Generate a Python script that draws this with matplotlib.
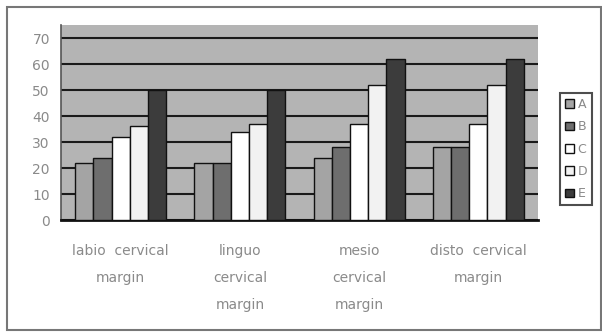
import numpy as np
import matplotlib.pyplot as plt
from matplotlib.patches import Rectangle

# データ
categories = ['labio  cervical\nmargin', 'linguo\ncervical\nmargin',
              'mesio\ncervical\nmargin', 'disto  cervical\nmargin']
series_names = ['A', 'B', 'C', 'D', 'E']
A = [22, 22, 24, 28]
B = [24, 22, 28, 28]
C = [32, 34, 37, 37]
D = [36, 37, 52, 52]
E = [50, 50, 62, 62]
yticks = [0, 10, 20, 30, 40, 50, 60, 70]

colors = ['#a4a4a4', '#6e6e6e', '#ffffff', '#f2f2f2', '#3c3c3c']
text_gray = '#8a8a8a'

fig = plt.figure(figsize=(6.02, 3.32), dpi=100)
ax = fig.add_axes([61 / 602, 112 / 332, 477 / 602, 195 / 332])
ax.set_facecolor('#b4b4b4')

x = np.arange(len(categories))
width = 0.153
for i, (vals, c, name) in enumerate(zip([A, B, C, D, E], colors, series_names)):
    ax.bar(x + (i - 2) * width, vals, width, color=c, edgecolor='#111111',
           linewidth=1.0, label=name, zorder=3)

ax.set_xlim(-0.5, len(categories) - 0.5)
ax.set_ylim(0, 75)
ax.set_yticks(yticks)
ax.set_yticklabels([str(v) for v in yticks], color=text_gray, fontsize=10)
ax.yaxis.grid(True, color='#1a1a1a', linewidth=1.5, zorder=1)
ax.set_axisbelow(True)
ax.tick_params(axis='y', length=0, pad=8)

ax.set_xticks(x)
ax.set_xticklabels(categories, color=text_gray, fontsize=10, linespacing=2.2)
ax.tick_params(axis='x', length=0, pad=17)

for s in ['top', 'right']:
    ax.spines[s].set_visible(False)
ax.spines['bottom'].set_color('#111111')
ax.spines['bottom'].set_linewidth(2)
ax.spines['left'].set_color('#555555')
ax.spines['left'].set_linewidth(1.2)

leg = fig.legend(loc='upper left', bbox_to_anchor=(560 / 602, 1 - 93 / 332),
                 fontsize=9, frameon=True, fancybox=False, handlelength=0.7,
                 handleheight=0.7, handletextpad=0.3, labelspacing=0.75,
                 borderpad=0.4, borderaxespad=0)
leg.get_frame().set_edgecolor('#222222')
leg.get_frame().set_linewidth(1.5)
for t in leg.get_texts():
    t.set_color(text_gray)

# 外枠
fig.patches.append(Rectangle((7 / 602, 2 / 332), 594 / 602, 323 / 332,
                             transform=fig.transFigure, fill=False,
                             edgecolor='#777777', linewidth=1.5))

fig.savefig('out.png', dpi=100)
